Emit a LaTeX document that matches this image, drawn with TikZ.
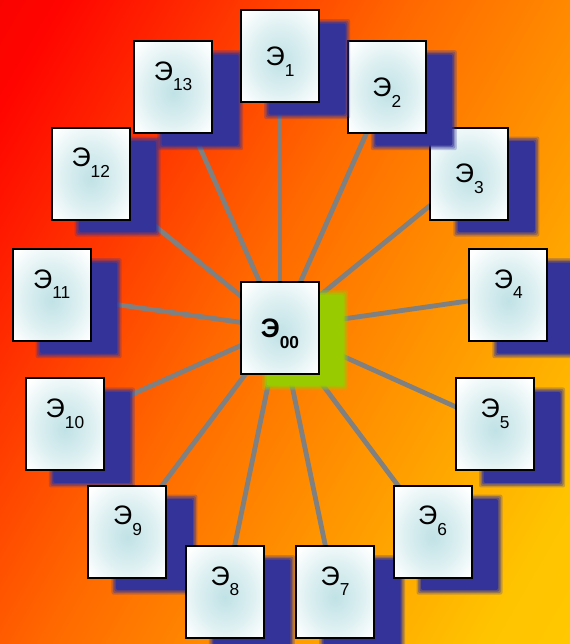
\documentclass[tikz,border=0pt]{standalone}
\usepackage{fontspec}
\setmainfont{Liberation Sans}
\usetikzlibrary{backgrounds}
\definecolor{bgdark}{RGB}{228,0,0}
\definecolor{bgred}{RGB}{255,4,0}
\definecolor{bgorange}{RGB}{255,105,0}
\definecolor{bgyellow}{RGB}{255,196,0}
\definecolor{bglight}{RGB}{255,210,0}
\definecolor{shadowblue}{RGB}{51,51,153}
\definecolor{shadowgreen}{RGB}{153,204,0}
\definecolor{boxcyan}{RGB}{192,226,230}
\definecolor{boxmid}{RGB}{220,239,241}
\definecolor{linkgray}{RGB}{128,128,128}
\pgfdeclarehorizontalshading{sunset}{100bp}{color(0bp)=(bgdark); color(20bp)=(bgred);
  color(46bp)=(bgorange); color(78bp)=(bgyellow); color(100bp)=(bglight)}
\pgfdeclareradialshading{boxglow}{\pgfpoint{0bp}{-3bp}}{color(0bp)=(boxcyan);
  color(17bp)=(boxmid); color(33bp)=(white); color(50bp)=(white)}
\tikzset{
  elbox/.style={draw=black,line width=1.5pt,shading=boxglow,
    minimum width=58.5pt,minimum height=69pt,inner sep=0pt,
    font=\fontsize{20}{24}\selectfont},
  link/.style={draw=linkgray,line width=3.6pt}
}
\newcommand\elname[1]{Э\raisebox{-8pt}{\fontsize{13}{13}\selectfont #1}}
% soft shadow: colour, point, x and y offset (px)
\newcommand\blurshadow[4]{%
  \foreach \g/\op in {3/0.25,1.5/0.35,0/0.5,-1.5/1}
    \fill[#1,opacity=\op,shift={(#2)},rounded corners=1.5pt]
      ({-40+#3-\g},{-47+#4-\g}) rectangle ({40+#3+\g},{47+#4+\g});
}

\begin{document}
\begin{tikzpicture}[x=0.75pt,y=-0.75pt]
  \useasboundingbox (0,0) rectangle (570,644);
  % ring of 13 boxes
  \foreach \k/\off in {13/5.25pt,12/5.25pt,11/5.25pt,10/5.25pt,9/5.25pt,8/5.25pt,
      7/5.25pt,6/5.25pt,5/5.25pt,4/5.25pt,3/-7pt,2/-7pt,1/-7pt}{
    \coordinate (p\k) at ({280+230*cos(90-(\k-1)*360/13)},{328-272*sin(90-(\k-1)*360/13)});
    \blurshadow{shadowblue}{p\k}{27}{13}
    \node[elbox,shade] (e\k) at (p\k) {\raisebox{\off}[0pt][0pt]{\elname{\k}}};
  }
  \coordinate (p0) at (280,328);
  \blurshadow{shadowgreen}{p0}{25}{12}
  \node[elbox,shade,font=\fontsize{20}{24}\selectfont\bfseries] (c) at (p0)
    {\raisebox{-7pt}[0pt][0pt]{\elname{00}}};
  \begin{scope}[on background layer]
    \shade[shading=sunset,shading angle=-30] (0,0) rectangle (570,644);
    \foreach \k in {1,...,13}
      \draw[link] (c.center) -- (e\k.center);
  \end{scope}
\end{tikzpicture}
\end{document}
